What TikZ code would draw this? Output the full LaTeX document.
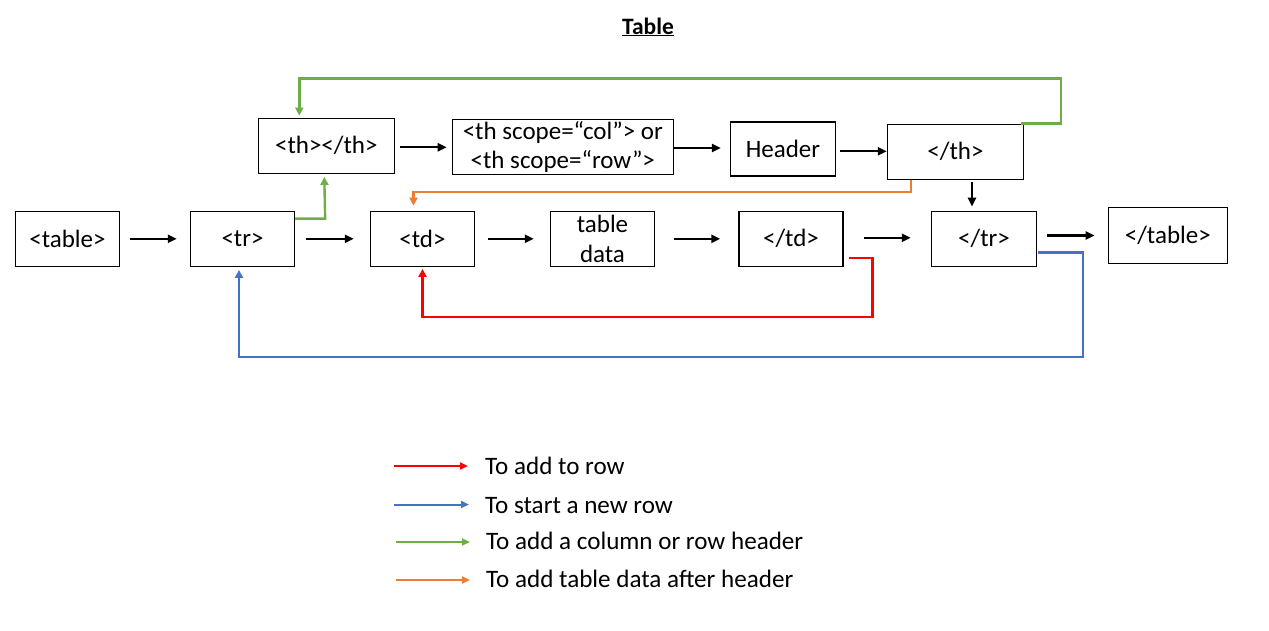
\documentclass[tikz,border=0pt]{standalone}
\usepackage{fontspec}
\setmainfont{Carlito}
\usetikzlibrary{arrows.meta,calc}
\definecolor{cgreen}{HTML}{70AD47}
\definecolor{corange}{HTML}{ED7D31}
\definecolor{cred}{HTML}{FF0000}
\definecolor{cblue}{HTML}{4472C4}
\begin{document}
\begin{tikzpicture}[x=1pt,y=-1pt,
 box/.style={draw,line width=1.3pt,inner sep=0pt,align=center,font=\fontsize{25}{29.5}\selectfont},
 txt/.style={inner sep=0pt,font=\fontsize{25.1}{29.5}\selectfont},
 arr/.style={line width=2.3pt,-{Triangle[length=9pt,width=8pt]}},
 gr/.style={draw=cgreen,line width=2.4pt,-{Triangle[length=8pt,width=8pt]}},
 org/.style={draw=corange,line width=2.4pt,-{Triangle[length=8pt,width=8pt]}},
 rd/.style={draw=cred,line width=2.4pt,-{Triangle[length=8pt,width=8pt]}},
 bl/.style={draw=cblue,line width=2.4pt,-{Triangle[length=8pt,width=8pt]}},
 leg/.style={line width=2pt,-{Triangle[length=8pt,width=7pt]}}
]
\useasboundingbox (0,0) rectangle (1269,630);
% title
\node[inner sep=0pt,font=\fontsize{23.5}{28}\selectfont\bfseries,anchor=base] (title) at (648,34) {\underline{Table}};
% boxes
\node[box,minimum width=104,minimum height=55] (table) at (67.5,238.8) {<table>};
\node[box,minimum width=104,minimum height=55] (tr) at (242.5,238.8) {<tr>};
\node[box,minimum width=104,minimum height=55] (td) at (422.5,238.8) {<td>};
\node[box,minimum width=104,minimum height=55] (data) at (602.5,238.8) {table\\data};
\node[box,minimum width=104,minimum height=55] (ctd) at (791,238.8) {</td>};
\node[box,minimum width=105,minimum height=55] (ctr) at (984,238.8) {</tr>};
\node[box,minimum width=119,minimum height=56] (ctable) at (1167.8,235.5) {</table>};
\node[box,minimum width=136,minimum height=55] (th) at (326.3,145.8) {<th></th>};
\node[box,minimum width=221,minimum height=55] (scope) at (562.8,146.8) {\raisebox{-2pt}{<th scope=“col”> or}\\\raisebox{-2pt}{<th scope=“row”>}};
\node[box,minimum width=105,minimum height=54] (header) at (783,149) {Header};
\node[box,minimum width=136,minimum height=55] (cth) at (955.5,151.8) {</th>};
% black arrows
\draw[arr] ($(table.east)+(10,0)$) -- ($(tr.west)+(-13,0)$);
\draw[arr] ($(tr.east)+(11,0)$) -- ($(td.west)+(-16,0)$);
\draw[arr] ($(td.east)+(13,0)$) -- ($(data.west)+(-16,0)$);
\draw[arr] ($(data.east)+(19,0)$) -- ($(ctd.west)+(-18,0)$);
\draw[arr] ($(ctd.east)+(20,-1)$) -- ($(ctr.west)+(-20,-1)$);
\draw[arr] ($(ctr.east |- ctable.west)+(10,0)$) -- ($(ctable.west)+(-13,0)$);
\draw[arr] ($(th.east |- scope.west)+(5,0.5)$) -- ($(scope.west)+(-5,0.5)$);
\draw[arr] ($(scope.east |- header.west)+(0,-1)$) -- ($(header.west)+(-9,-1)$);
\draw[arr] ($(header.east |- cth.west)+(4,-0.5)$) -- ($(cth.west)+(0,-0.5)$);
\draw[arr] ($(cth.south -| ctr.north)+(-12,2)$) -- ($(ctr.north)+(-12,-4)$);
% coloured connectors
\draw[gr] ($(tr.north east)+(0,8)$) -- ++(30,0) -- ($(th.south)+(-2,3)$);
\draw[gr] ($(cth.north east)+(-3,0)$) -- ++(40,0) -- ++(0,-45) -| ($(th.north)+(-27,-2)$);
\draw[org] ($(cth.south west)+(24,0)$) -- ++(0,12) -| ($(td.north)+(-9,-5)$);
\draw[rd] ($(ctd.east)+(5,19)$) -- ++(24,0) -- ++(0,59) -| ($(td.south)+(0,2)$);
\draw[bl] ($(ctr.east)+(1,13.5)$) -- ++(45,0) -- ++(0,104.5) -| ($(tr.south)+(-3.5,3)$);
% legend
\node[txt,anchor=base west] (l1) at (485,474) {To add to row};
\node[txt,anchor=base west] (l2) at (485,513.3) {To start a new row};
\node[txt,anchor=base west] (l3) at (486,549.3) {To add a column or row header};
\node[txt,anchor=base west] (l4) at (486,587.3) {To add table data after header};
\coordinate (r0) at (394,466);
\coordinate (r1) at (468,466);
\coordinate (b0) at (394,504.5);
\coordinate (b1) at (469,504.5);
\coordinate (g0) at (396,542);
\coordinate (g1) at (470,542);
\coordinate (o0) at (396,580);
\coordinate (o1) at (470,580);
\draw[leg,cred] (r0) -- (r1);
\draw[leg,cblue] (b0) -- (b1);
\draw[leg,cgreen] (g0) -- (g1);
\draw[leg,corange] (o0) -- (o1);
\end{tikzpicture}
\end{document}
